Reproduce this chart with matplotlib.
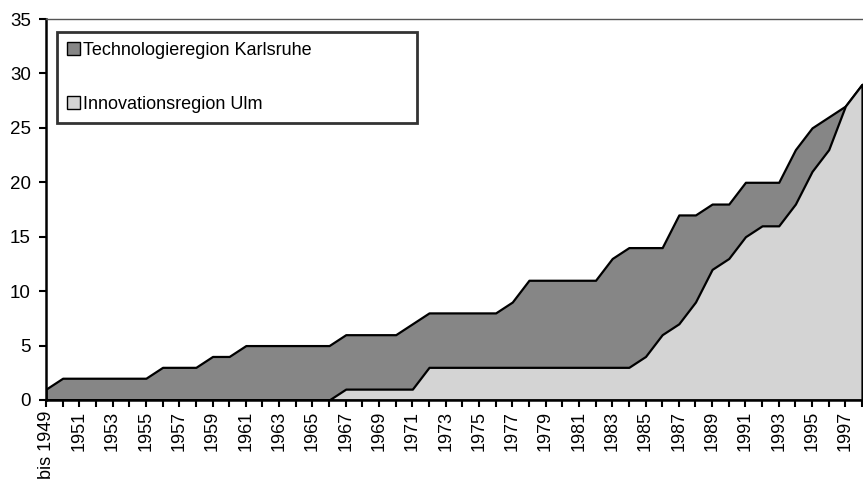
import matplotlib
matplotlib.use('Agg')
import matplotlib.pyplot as plt
from matplotlib.patches import Patch

plt.rcParams['font.family'] = ['Liberation Sans', 'DejaVu Sans']

# Daten (kumulierte Anzahl)
years = list(range(1949, 1999))
karlsruhe = [1, 2, 2, 2, 2, 2, 2, 3, 3, 3,
             4, 4, 5, 5, 5, 5, 5, 5, 6, 6,
             6, 6, 7, 8, 8, 8, 8, 8, 9, 11,
             11, 11, 11, 11, 13, 14, 14, 14, 17, 17,
             18, 18, 20, 20, 20, 23, 25, 26, 27, 29]
ulm = [0, 0, 0, 0, 0, 0, 0, 0, 0, 0,
       0, 0, 0, 0, 0, 0, 0, 0, 1, 1,
       1, 1, 1, 3, 3, 3, 3, 3, 3, 3,
       3, 3, 3, 3, 3, 3, 4, 6, 7, 9,
       12, 13, 15, 16, 16, 18, 21, 23, 27, 29]
series_names = ['Technologieregion Karlsruhe', 'Innovationsregion Ulm']
tick_labels = ['bis 1949' if y == 1949 else (str(y) if y % 2 == 1 else '') for y in years]

col_ka = '#868686'
col_ulm = '#d4d4d4'

fig = plt.figure(figsize=(8.63, 4.84), dpi=100)
ax = fig.add_axes([46 / 863, 1 - 400 / 484, (862 - 46) / 863, (400 - 19) / 484])

ax.fill_between(years, karlsruhe, 0, facecolor=col_ka, edgecolor='black', linewidth=1.6, zorder=2)
ax.fill_between(years, ulm, 0, facecolor=col_ulm, edgecolor='black', linewidth=1.6, zorder=3)

ax.set_xlim(1949, 1998)
ax.set_ylim(0, 35)
ax.set_yticks(range(0, 36, 5))
ax.set_xticks(years)
ax.set_xticklabels(tick_labels, rotation=90, va='top', ha='center')

ax.tick_params(axis='both', direction='out', length=5, width=1.5, labelsize=13, color='black')
ax.tick_params(axis='x', pad=3)
ax.tick_params(axis='y', pad=6, labelsize=13.5)

ax.spines['left'].set_linewidth(1.8)
ax.spines['bottom'].set_linewidth(1.8)
ax.spines['bottom'].set_zorder(5)
ax.spines['top'].set_linewidth(1.0)
ax.spines['top'].set_color('#555555')
ax.spines['right'].set_visible(False)

handles = [Patch(facecolor=col_ka, edgecolor='black', linewidth=1.0),
           Patch(facecolor=col_ulm, edgecolor='black', linewidth=1.0)]
leg = fig.legend(handles, series_names, loc='upper left',
                 bbox_to_anchor=(57 / 863, 1 - 132 / 484, (417 - 57) / 863, 100 / 484),
                 mode='expand', fontsize=13, frameon=True, fancybox=False, shadow=False,
                 handlelength=0.7, handleheight=0.7, handletextpad=0.2,
                 labelspacing=2.05, borderpad=0.55, borderaxespad=0)
leg.get_frame().set_edgecolor('black')
leg.get_frame().set_linewidth(2.0)

fig.savefig('out.png', dpi=100)
